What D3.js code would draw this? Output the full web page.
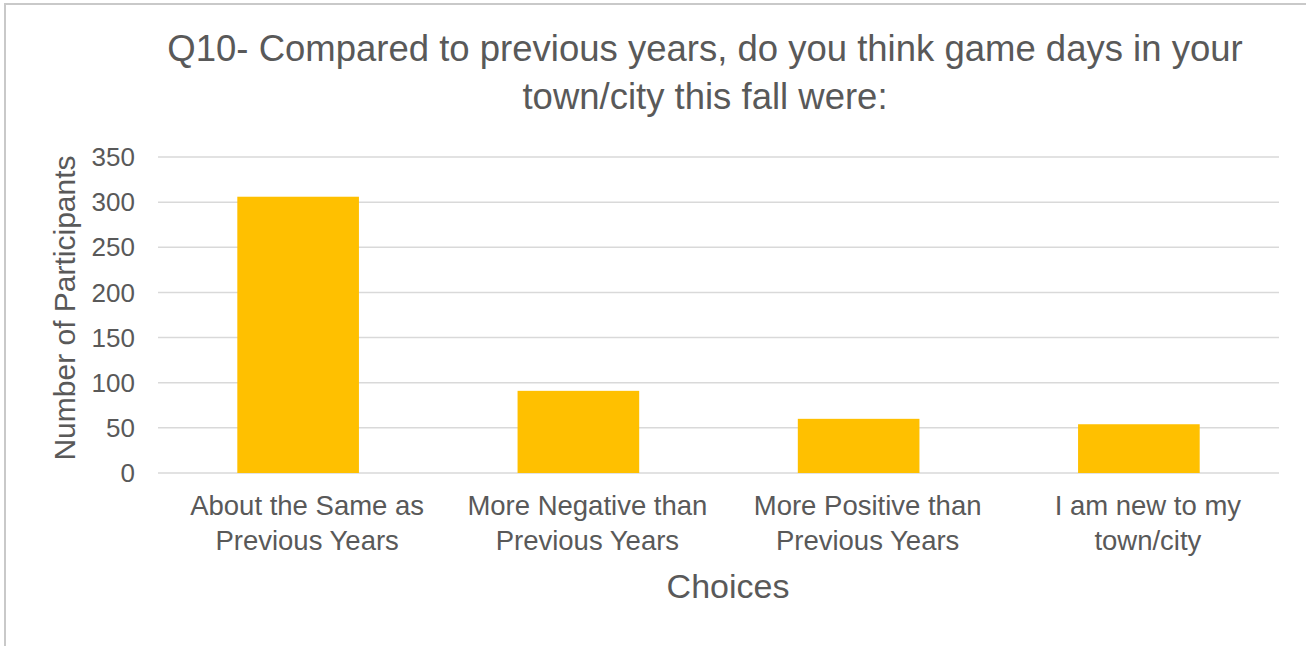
<!DOCTYPE html>
<html lang="en">
<head>
<meta charset="UTF-8">
<title>Q10 chart</title>
<style>
  body { margin: 0; background: #fff; }
  text { font-family: "Liberation Sans", Arial, sans-serif; fill: #595959; }
</style>
</head>
<body>
<svg width="1306" height="646"></svg>
<script src="https://d3js.org/d3.v7.min.js"></script>
<script>
// data
var categories = [
  ["About the Same as", "Previous Years"],
  ["More Negative than", "Previous Years"],
  ["More Positive than", "Previous Years"],
  ["I am new to my", "town/city"]
];
var values = [306, 91, 60, 54];
var yTicks = [0, 50, 100, 150, 200, 250, 300, 350];
var titleLines = ["Q10- Compared to previous years, do you think game days in your", "town/city this fall were:"];

var svg = d3.select("svg");

// picture frame (only top and left edges show)
svg.append("rect")
  .attr("x", 5).attr("y", 4)
  .attr("width", 1400).attr("height", 700)
  .attr("fill", "none")
  .attr("stroke", "#c9c9c9")
  .attr("stroke-width", 2);

var plotL = 158, plotR = 1279, plotT = 157, plotB = 473;

var x = d3.scaleBand()
  .domain(d3.range(categories.length))
  .range([plotL, plotR])
  .paddingInner(0.566)
  .paddingOuter(0.283);

var y = d3.scaleLinear().domain([0, 350]).range([plotB, plotT]);

// gridlines
svg.append("g").selectAll("line")
  .data(yTicks)
  .join("line")
  .attr("x1", plotL).attr("x2", plotR)
  .attr("y1", d => y(d)).attr("y2", d => y(d))
  .attr("stroke", "#d9d9d9")
  .attr("stroke-width", 1.5);

// y tick labels
svg.append("g").selectAll("text")
  .data(yTicks)
  .join("text")
  .attr("x", 135)
  .attr("y", d => y(d))
  .attr("dy", "0.35em")
  .attr("text-anchor", "end")
  .attr("font-size", 26)
  .text(d => d);

// bars
svg.append("g").selectAll("rect")
  .data(values)
  .join("rect")
  .attr("x", (d, i) => x(i))
  .attr("y", d => y(d))
  .attr("width", x.bandwidth())
  .attr("height", d => y(0) - y(d))
  .attr("fill", "#ffc000");

// category labels (sit a little right of the bar centres in the original)
var cat = svg.append("g").selectAll("text")
  .data(categories)
  .join("text")
  .attr("text-anchor", "middle")
  .attr("font-size", 27.5);
cat.selectAll("tspan")
  .data((d, i) => d.map(s => ({s: s, i: i})))
  .join("tspan")
  .attr("x", d => x(d.i) + x.bandwidth() / 2 + 9)
  .attr("y", (d, j) => 515 + j * 35)
  .text(d => d.s);

// axis titles
svg.append("text")
  .attr("x", 728)
  .attr("y", 598)
  .attr("text-anchor", "middle")
  .attr("font-size", 34)
  .text("Choices");

svg.append("text")
  .attr("transform", "translate(75,308) rotate(-90)")
  .attr("text-anchor", "middle")
  .attr("font-size", 30)
  .text("Number of Participants");

// title
svg.append("g").selectAll("text")
  .data(titleLines)
  .join("text")
  .attr("x", 705)
  .attr("y", (d, i) => 61 + i * 48)
  .attr("text-anchor", "middle")
  .attr("font-size", 36.5)
  .text(d => d);
</script>
</body>
</html>
